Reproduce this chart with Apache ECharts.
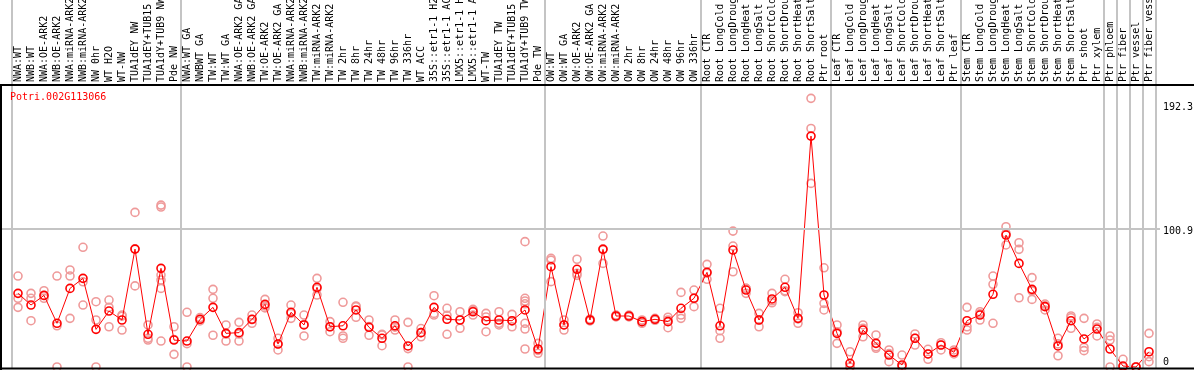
<!DOCTYPE html>
<html><head><meta charset="utf-8">
<script src="https://cdn.jsdelivr.net/npm/echarts@6/dist/echarts.min.js"></script>
<style>html,body{margin:0;padding:0;background:#fff}#c{width:1194px;height:370px}</style>
</head><body><div id="c"></div>
<script>
const geneId = 'Potri.002G113066';

const categories = [
  'NWA:WT','NWB:WT','NWA:OE-ARK2','NWB:OE-ARK2','NWA:miRNA-ARK2','NWB:miRNA-ARK2','NW 0hr','WT H2O','WT-NW','TUA1dEY NW',
  'TUA1dEY+TUB15','TUA1dY+TUB9 NW','Pde NW','NWA:WT GA','NWBWT GA','TW:WT','TW:WT GA','NWA:OE-ARK2 GA','NWB:OE-ARK2 GA','TW:OE-ARK2',
  'TW:OE-ARK2 GA','NWA:miRNA-ARK2','NWB:miRNA-ARK2','TW:miRNA-ARK2','TW:miRNA-ARK2','TW 2hr','TW 8hr','TW 24hr','TW 48hr','TW 96hr',
  'TW 336hr','WT ACC','35S::etr1-1 H2O','35S::etr1-1 ACC','LMX5::etr1-1 H2O','LMX5::etr1-1 ACC','WT-TW','TUA1dEY TW','TUA1dEY+TUB15','TUA1dY+TUB9 TW',
  'Pde TW','OW:WT','OW:WT GA','OW:OE-ARK2','OW:OE-ARK2 GA','OW:miRNA-ARK2','OW:miRNA-ARK2','OW 2hr','OW 8hr','OW 24hr',
  'OW 48hr','OW 96hr','OW 336hr','Root CTR','Root LongCold','Root LongDrought','Root LongHeat','Root LongSalt','Root ShortCold','Root ShortDrought',
  'Root ShortHeat','Root ShortSalt','Ptr root','Leaf CTR','Leaf LongCold','Leaf LongDrought','Leaf LongHeat','Leaf LongSalt','Leaf ShortCold','Leaf ShortDrought',
  'Leaf ShortHeat','Leaf ShortSalt','Ptr leaf','Stem CTR','Stem LongCold','Stem LongDrought','Stem LongHeat','Stem LongSalt','Stem ShortCold','Stem ShortDrought',
  'Stem ShortHeat','Stem ShortSalt','Ptr shoot','Ptr xylem','Ptr phloem','Ptr fiber','Ptr vessel','Ptr fiber vessel'
];

const means = [
  53.6, 45.1, 52.1, 31.8, 57.2, 64.5, 27.4, 40.7, 34.2, 85.8,
  23.8, 71.8, 19.6, 18.9, 34.7, 43.4, 24.5, 25.0, 34.7, 45.6,
  16.7, 39.8, 30.6, 58.0, 29.3, 30.0, 41.5, 28.9, 20.9, 30.0,
  15.3, 25.0, 43.4, 34.7, 34.2, 40.2, 33.7, 34.2, 33.7, 41.5,
  13.1, 73.0, 30.6, 71.1, 34.2, 85.6, 37.1, 37.1, 33.0, 34.7,
  33.0, 42.7, 50.0, 68.9, 30.0, 85.1, 56.0, 34.2, 49.5, 58.0,
  35.4, 168.0, 52.4, 24.5, 2.7, 26.9, 17.2, 8.7, 1.5, 20.9,
  9.5, 16.0, 10.7, 33.7, 37.8, 52.9, 96.0, 75.4, 56.5, 43.9,
  15.3, 33.7, 20.4, 27.6, 13.1, 0.7, 0, 11.1
];

const replicates = [
  [66.2,50,43.4],[53.6,50,33.7],[55.5,52,50],[66.2,30,0],[70.6,66.2,35.4],
  [87.1,62,45.1],[47.5,34.2,0],[48.7,43.4,29.3],[37.8,37,26.9],[112.5,86,59],
  [30.6,20.9,19.6],[117.8,116.4,66.9,63.3,57.2,18.9],[29.3,20,9.2],[39.8,17,0],[36,34.5,33.5],
  [56.5,50,23.1],[30.6,24,18.9],[32.5,24,18.9],[37.8,34.5,31.8],[49.2,44.4,43],
  [20.9,16.8,12.4],[45.1,39,35.4],[37.8,31,22.6],[64.5,57,52.4],[33,29.3,25.7],
  [47.1,22.6,20.9],[44.4,43.9,36.2],[34.2,29.4,23.1],[23.8,23.4,15.5],[34.2,29,26.9],
  [32.5,13.4,0],[28,25,22],[51.9,39,37.8],[42.7,37.6,23.8],[40.2,34.2,28.2],
  [41.9,40.9,37.8],[39,36.4,25.7],[40.2,31.8,30.6],[38.3,33.4,29.3],[91.2,50,48,46,31.8,27.6,13.1],
  [17.2,12.1,10],[79.1,77.8,62.1],[34.2,30.7,26.9],[78.4,68.2,66.7],[34.9,34.2,33.5],
  [95.3,86,75.4],[37.8,37.1,36.4],[37.8,37.1,36.4],[34.2,33,31.8],[35.4,34.7,34],
  [36.2,34.2,28.6],[54.3,37.8,35.4],[56,50.1,43.9],[74.7,68.2,63.8],[42.7,26.4,20.9],
  [98.9,88,69.3],[57.2,57.2,53.6],[39,34.3,29.3],[53.6,48.2,46.7],[63.8,55.4,54.8],
  [39.5,35,31.8],[195.5,173.6,133.6],[72.2,46.3,41.5],[30.6,25.7,17.2],[11.1,0,0],
  [30.6,28.1,22],[23.3,14.7,13.6],[12.4,9.8,3.9],[8.7,0,0],[24,20.9,16],
  [12.9,9.5,5.6],[17.7,16,12.4],[12.4,10.7,9.5],[43.4,29.3,26.9],[40.2,38.8,34.2],
  [66.2,60.2,31.8],[102.1,97.3,88.8],[90.4,85.6,50.4],[65,55.4,49.2],[45.8,44.5,41.5],
  [20.9,16.8,8.2],[37.1,35.8,28.2],[35.4,14.3,11.9],[31.3,28.9,22.6],[22.6,19.6,0],
  [5.6,0,0],[0,0,0],[24.5,7.5,3.9]
];

const groupBoundaries = [0, 13, 41, 53, 63, 73, 84, 85, 86, 87, 88];
const yLabelValues = [0, 100.9, 192.3];
const gridValue = 100.9;

const Y_MIN = -1.455, Y_MAX = 205.2;
const MONO = '"DejaVu Sans Mono", "Liberation Mono", monospace';
const GRAY = '#c4c4c4';

const repData = [];
replicates.forEach((arr, i) => arr.forEach(v => repData.push([i, v])));

const chart = echarts.init(document.getElementById('c'), null, {renderer: 'canvas'});
chart.setOption({
  animation: false,
  backgroundColor: '#fff',
  title: {
    text: geneId, left: 10, top: 92, padding: [0, 0, 0, 0],
    textStyle: {color: '#ff0000', fontSize: 10, fontWeight: 'normal', fontFamily: MONO}
  },
  grid: [
    {left: 11.5, right: 38.5, top: 85, bottom: 1, containLabel: false, outerBoundsMode: 'none'},
    {left: 1, right: 34, top: 85, bottom: 1, containLabel: false, outerBoundsMode: 'none'},
    {left: 11.5, right: 38.5, top: 0, bottom: 1, containLabel: false, outerBoundsMode: 'none'}
  ],
  xAxis: [
    {
      type: 'category', gridIndex: 0, position: 'top', data: categories, boundaryGap: true,
      axisLine: {show: false}, axisTick: {show: false}, splitLine: {show: false},
      axisLabel: {rotate: 90, interval: 0, margin: 3, color: '#000', fontSize: 10, fontFamily: MONO, hideOverlap: false}
    },
    {type: 'value', gridIndex: 1, min: 0, max: 1, show: false},
    {type: 'value', gridIndex: 2, min: 0, max: categories.length, show: false}
  ],
  yAxis: [
    {type: 'value', gridIndex: 0, min: Y_MIN, max: Y_MAX, show: false},
    {
      type: 'value', gridIndex: 1, min: Y_MIN, max: Y_MAX, position: 'right',
      axisLine: {show: false}, axisTick: {show: false}, splitLine: {show: false},
      axisLabel: {
        show: true, margin: 3, color: '#000', fontSize: 10, fontFamily: MONO,
        customValues: yLabelValues,
        formatter: function (v) {
          if (v === 0) return '{b|0}';
          if (v === 192.3) return '{t|192.3}';
          return '{m|' + v + '}';
        },
        rich: {
          t: {fontSize: 10, fontFamily: MONO, color: '#000', padding: [10, 0, 0, 0]},
          m: {fontSize: 10, fontFamily: MONO, color: '#000', padding: [7, 0, 0, 0]},
          b: {fontSize: 10, fontFamily: MONO, color: '#000', padding: [0, 0, 10, 0]}
        }
      }
    },
    {type: 'value', gridIndex: 2, min: 0, max: 1, show: false}
  ],
  series: [
    {
      type: 'line', xAxisIndex: 2, yAxisIndex: 2, data: [], silent: true,
      markLine: {
        silent: true, symbol: 'none', label: {show: false},
        lineStyle: {color: GRAY, width: 2, type: 'solid'},
        data: groupBoundaries.map(b => ({xAxis: b}))
      }
    },
    {
      type: 'line', xAxisIndex: 1, yAxisIndex: 1, data: [], silent: true,
      markLine: {
        silent: true, symbol: 'none', label: {show: false},
        lineStyle: {color: GRAY, width: 2, type: 'solid'},
        data: [{yAxis: gridValue}]
      }
    },
    {
      type: 'scatter', xAxisIndex: 0, yAxisIndex: 0, data: repData,
      symbol: 'circle', symbolSize: 8, z: 3,
      itemStyle: {color: 'rgba(0,0,0,0)', borderColor: '#ef9a9a', borderWidth: 1.6, opacity: 1}
    },
    {
      type: 'line', xAxisIndex: 0, yAxisIndex: 0, data: means, z: 4,
      symbol: 'circle', symbolSize: 8, showAllSymbol: true,
      lineStyle: {color: '#ff0000', width: 1},
      itemStyle: {color: 'rgba(0,0,0,0)', borderColor: '#ff0000', borderWidth: 1.6}
    }
  ],
  graphic: [
    {type: 'line', shape: {x1: 0, y1: 85, x2: 1194, y2: 85}, style: {stroke: '#000', lineWidth: 2}, z: 10},
    {type: 'line', shape: {x1: 0, y1: 368.5, x2: 1194, y2: 368.5}, style: {stroke: '#000', lineWidth: 2}, z: 10},
    {type: 'line', shape: {x1: 1, y1: 85, x2: 1, y2: 370}, style: {stroke: '#000', lineWidth: 2}, z: 10}
  ]
});
</script>
</body></html>
